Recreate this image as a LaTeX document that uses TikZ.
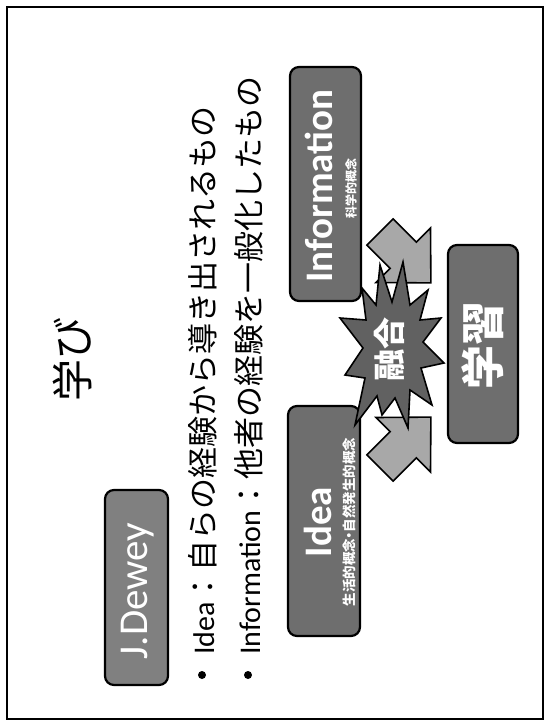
\documentclass[tikz,border=0pt]{standalone}
\usepackage{fontspec}
\usepackage{graphicx}
\setmainfont{Carlito}
\newfontfamily\jp{Noto Sans CJK JP}
\newfontfamily\jpp[RawFeature=+palt]{Noto Sans CJK JP}
\definecolor{boxgray}{gray}{0.43}
\definecolor{deweygray}{gray}{0.5}
\definecolor{arrowgray}{gray}{0.66}
\definecolor{stargray}{gray}{0.38}
\tikzset{
  slidebox/.style={draw=black, line width=2.2pt, rounded corners=9pt, rotate=90, inner sep=0pt},
  rot/.style={rotate=90, inner sep=0pt},
  blockarrow/.style={draw=black, line width=1.6pt, fill=arrowgray, line join=miter},
  burst/.style={draw=black, line width=1.6pt, fill=stargray, line join=miter},
  bulletdot/.style={circle, fill=black, inner sep=0pt, minimum size=8pt}
}
\begin{document}
\begin{tikzpicture}[x=1pt,y=-1pt]
\useasboundingbox (0,0) rectangle (549,726);
\fill[white] (0,0) rectangle (549,726);
\draw[line width=2pt] (7,7) rectangle (543,719);

% title
\node[rot, font=\jp\fontsize{42}{42}\selectfont] (title) at (72,359) {学び};

% J.Dewey box
\node[slidebox, fill=deweygray, minimum width=195pt, minimum height=63pt] (dewey) at (136.5,587.5) {};
\node[rot, white, font=\fontsize{41}{41}\selectfont] (deweytxt) at (138,591) {J.Dewey};

% bullets
\node[bulletdot] (b1) at (202,675) {};
\node[bulletdot] (b2) at (248,675) {};
\node[rot, anchor=west, font=\fontsize{30}{30}\selectfont] (line1) at (203,655)
  {Idea{\jp\fontsize{31}{31}\selectfont ：自らの経験から導き出されるもの}};
\node[rot, anchor=west, font=\fontsize{30}{30}\selectfont] (line2) at (249,655)
  {Information{\jp\fontsize{31}{31}\selectfont ：他者の経験を一般化したもの}};

% Information / Idea / 学習 boxes
\node[slidebox, fill=boxgray, minimum width=234pt, minimum height=71pt] (info) at (325.5,184) {};
\node[rot, white, font=\bfseries\fontsize{39}{39}\selectfont] (infotxt) at (319,186) {Information};
\node[rot, white, font=\jp\bfseries\fontsize{12}{12}\selectfont] (infosub) at (351,188) {科学的概念};

\node[slidebox, fill=boxgray, minimum width=230pt, minimum height=72pt] (idea) at (324,521) {};
\node[rot, white, font=\bfseries\fontsize{39}{39}\selectfont] (ideatxt) at (318,522) {Idea};
\node[rot, white, font=\jpp\bfseries\fontsize{13.5}{13.5}\selectfont] (ideasub) at (349,522) {生活的概念・自然発生的概念};

\node[slidebox, fill=boxgray, minimum width=198pt, minimum height=70pt] (gakushu) at (483,344) {};
\node[rot, white, font=\jp\bfseries\fontsize{44}{44}\selectfont] (gakushutxt) at (483,345) {学習};

% block arrows
\draw[blockarrow] (366.9,245.1) -- (393.1,218.9) -- (416.4,242.2) -- (430.5,228.1)
  -- (430.9,282.9) -- (376.1,282.5) -- (390.2,268.4) -- cycle;
\draw[blockarrow] (366.9,454.9) -- (393.1,481.1) -- (416.4,457.8) -- (430.5,471.9)
  -- (430.9,417.1) -- (376.1,417.5) -- (390.2,431.6) -- cycle;

% explosion
\draw[burst] (380,265) -- (392,302) -- (403,262) -- (410,305) -- (428,290) -- (420,320)
  -- (441,318) -- (423,342) -- (444,363) -- (421,368) -- (432,405) -- (410,390)
  -- (408,428) -- (395,398) -- (382,415) -- (377,396) -- (355,425) -- (365,378)
  -- (345,375) -- (363,348) -- (340,318) -- (366,320) -- (362,288) -- (376,305) -- cycle;
\node[rot, white, font=\jp\bfseries\fontsize{32}{32}\selectfont] (yugo) at (389,349) {融合};
\end{tikzpicture}
\end{document}
